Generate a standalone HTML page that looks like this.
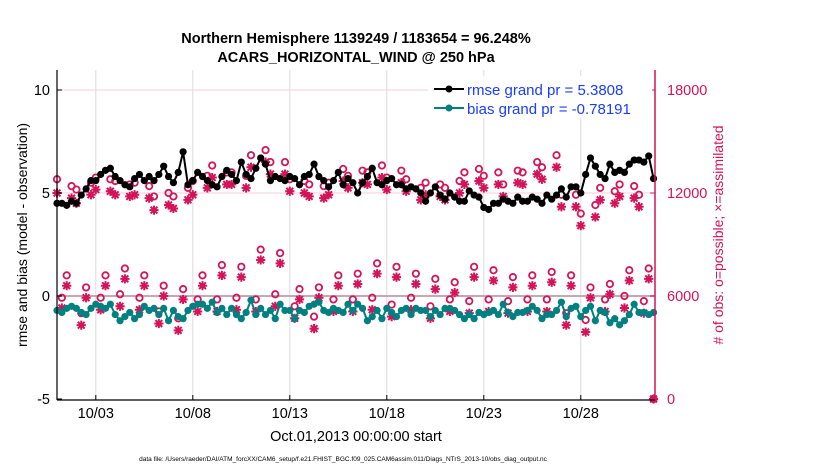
<!DOCTYPE html>
<html><head><meta charset="utf-8"><style>
body{margin:0;background:#fff;}
svg text{font-family:"Liberation Sans",sans-serif;}
</style></head><body>
<svg id="c" width="830" height="470" xmlns="http://www.w3.org/2000/svg">
<text x="356" y="43" font-size="14.5" font-weight="bold" text-anchor="middle">Northern Hemisphere 1139249 / 1183654 = 96.248%</text>
<text x="356" y="62" font-size="14.5" font-weight="bold" text-anchor="middle">ACARS_HORIZONTAL_WIND @ 250 hPa</text>
<g id="grid"></g><g id="marks"></g><g id="axes"></g>
<text transform="translate(27,235) rotate(-90)" font-size="14" text-anchor="middle">rmse and bias (model - observation)</text>
<text transform="translate(723,235) rotate(-90)" font-size="14" text-anchor="middle" fill="#d4145a"># of obs: o=possible; ×=assimilated</text>
<text x="356" y="441" font-size="14.5" text-anchor="middle">Oct.01,2013 00:00:00 start</text>
<text x="343" y="461" font-size="6.5" text-anchor="middle">data file: /Users/raeder/DAI/ATM_forcXX/CAM6_setup/f.e21.FHIST_BGC.f09_025.CAM6assim.011/Diags_NTrS_2013-10/obs_diag_output.nc</text>
<g>
<rect x="428" y="76" width="224" height="42" fill="#fff"/>
<g><line x1="434" y1="89" x2="464" y2="89" stroke="#000" stroke-width="2"/><circle cx="449" cy="89" r="3.5" fill="#000"/><text x="467" y="95" font-size="15" fill="#1a3cff">rmse grand pr = 5.3808</text></g>
<g><line x1="434" y1="108" x2="464" y2="108" stroke="#008080" stroke-width="2"/><circle cx="449" cy="108" r="3.5" fill="#008080"/><text x="467" y="114" font-size="15" fill="#1a3cff">bias grand pr = -0.78191</text></g>
</g>
</svg>
<script>
const rmse=[4.5,4.5,4.4,4.6, 4.5,4.9,5.2,5.6, 5.6,5.9,6.1,6.2, 5.8,5.6,5.4,5.3, 5.7,5.9,5.6,5.8, 5.6,5.9,6.3,5.8, 5.5,6.0,7.0,5.4, 5.6,6.0,5.8,5.6, 5.4,5.3,5.8,6.1, 5.9,5.6,6.5,5.9, 5.7,6.2,6.7,6.4, 5.6,5.8,5.7,5.6, 5.8,5.7,5.4,5.8, 5.9,6.4,5.8,5.6, 5.3,5.6,6.0,5.4, 5.7,5.5,5.0,5.5, 5.8,6.2,5.5,5.4, 5.6,5.7,5.4,5.4, 5.2,5.3,5.2,5.0, 4.6,5.0,5.3,4.9, 4.7,5.0,4.8,4.6, 4.6,5.1,4.9,4.8, 4.3,4.2,4.5,4.5, 4.7,4.6,4.5,4.8, 4.6,4.6,4.8,4.7, 4.5,4.9,4.7,4.9, 5.2,4.8,5.3,5.3, 5.0,5.9,6.7,6.3, 5.9,5.7,6.4,6.0, 6.1,6.0,6.4,6.6, 6.6,6.5,6.8,5.7];
const bias=[-0.7,-0.8,-0.6,-0.5, -0.6,-0.8,-0.9,-0.6, -0.4,-0.5,-0.6,-0.4, -0.9,-1.2,-1.0,-0.8, -1.1,-0.9,-0.5,-0.7, -0.6,-0.9,-0.6,-1.2, -0.7,-1.0,-1.1,-0.7, -0.5,-0.4,-0.4,-0.6, -0.3,-0.8,-0.6,-0.9, -0.6,-0.9,-1.1,-0.8, -0.2,-0.9,-0.6,-0.9, -0.7,-1.1,-0.4,-0.7, -0.7,-1.1,-0.7,-0.8, -0.5,-0.4,-0.3,-0.7, -0.8,-0.6,-0.7,-0.8, -0.4,-0.7,-0.4,-0.6, -1.2,-1.0,-0.7,-1.1, -0.6,-0.8,-1.0,-0.7, -0.6,-0.9,-0.6,-0.7, -0.7,-1.0,-0.7,-0.9, -0.6,-0.6,-0.7,-0.9, -1.1,-0.9,-1.1,-0.8, -0.9,-0.8,-0.7,-0.9, -0.4,-0.8,-1.0,-0.8, -0.8,-0.7,-0.5,-0.7, -1.1,-0.9,-0.9,-0.7, -0.3,-1.0,-0.6,-0.5, -1.0,-0.7,-0.5,-1.2, -0.7,-0.8,-1.3,-1.1, -1.4,-1.2,-0.9,-0.4, -0.8,-0.8,-0.9,-0.8];
const possible=[12800,5900,7200,12400, 12200,5000,6500,12600, 12900,5900,7200,12800, 12700,6100,7600,12500, 12600,5900,7200,12400, 11800,5100,6600,12000, 11800,4700,6400,12300, 12700,5800,7200,13000, 13600,5800,7800,13200, 13200,5900,7700,13000, 14200,5800,8700,14500, 13800,6100,8500,13800, 12800,5400,6400,12700, 12500,4800,6500,12400, 12600,5800,7200,13400, 13000,5800,7300,13300, 13200,5900,7900,13600, 12900,5500,7700,13300, 12800,5900,7300,12300, 12600,5400,7000,12500, 12300,5800,6800,12700, 13200,5700,7700,13400, 13000,5800,7500,13200, 12500,5700,7100,13300, 13200,5800,7200,13800, 13500,5800,7400,14200, 11900,5000,7200,11900, 10800,4600,6500,11300, 12300,5800,6700,12100, 12500,6000,7500,12400, 11900,5700,7600,0];
const assimilated=[12000,5300,6600,11700, 11400,4300,5900,11900, 12200,5200,6600,12100, 11900,5400,7000,11800, 11900,5200,6600,11700, 11000,4400,6000,11300, 11100,4000,5800,11600, 11900,5100,6600,12300, 12900,5100,7200,12500, 12500,5200,7100,12300, 13500,5100,8100,13800, 13100,5400,7900,13100, 12100,4700,5800,12000, 11800,4100,5900,11700, 11900,5100,6600,12700, 12300,5100,6700,12600, 12500,5200,7300,12900, 12200,4800,7100,12600, 12100,5200,6700,11600, 11900,4700,6400,11800, 11600,5100,6200,12000, 12500,5000,7100,12700, 12300,5100,6900,12500, 11800,5000,6500,12600, 12500,5100,6600,13100, 12800,5100,6800,13500, 11200,4300,6600,11200, 10100,3900,5900,10600, 11600,5100,6100,11400, 11800,5300,6900,11700, 11200,5000,7000,0];
const xTicks=[2,7,12,17,22,27];
const xTickLabels=["10/03","10/08","10/13","10/18","10/23","10/28"];
const yTicks=[-5,0,5,10];
const y2Ticks=[0,6000,12000,18000];

const X0=57,X1=655,Y0=400,YT=70;
const xs=t=>X0+t*19.4;
const ys=v=>296-v*20.6;
const y2s=v=>399-v*103/6000;
const tOf=i=>i*0.25;
const NS="http://www.w3.org/2000/svg";
function mk(tag,attrs,parent){const e=document.createElementNS(NS,tag);for(const k in attrs)e.setAttribute(k,attrs[k]);parent.appendChild(e);return e;}
const grid=document.getElementById('grid'),marks=document.getElementById('marks'),axes=document.getElementById('axes');

xTicks.forEach((d,i)=>{
 const l=mk('line',{x1:xs(d),x2:xs(d),y1:YT,y2:Y0,stroke:'#dcdcdc','stroke-width':1},grid);
 
 
 const tk=mk('line',{x1:xs(d),x2:xs(d),y1:Y0,y2:Y0-5,stroke:'#000'},axes);
 
 
 const t=mk('text',{x:xs(d),y:418,'font-size':14.5,'text-anchor':'middle'},axes);t.textContent=xTickLabels[i];
 
 
});
y2Ticks.forEach(v=>{
 if(v>0){const l=mk('line',{x1:X0,x2:X1,y1:y2s(v),y2:y2s(v),stroke:'#f6cfdc','stroke-width':1},grid);
 
 }
 const tk=mk('line',{x1:X1,x2:X1-5,y1:y2s(v),y2:y2s(v),stroke:'#d4145a'},axes);
 
 
 const t=mk('text',{x:667,y:y2s(v)+5,'font-size':14.5,fill:'#d4145a'},axes);t.textContent=v;
 
 
});
const z=mk('line',{x1:X0,x2:X1,y1:ys(0),y2:ys(0),stroke:'#c8a8b0','stroke-width':2},grid);


yTicks.forEach(v=>{
 const tk=mk('line',{x1:X0,x2:X0+5,y1:ys(v),y2:ys(v),stroke:'#000'},axes);
 
 
 const t=mk('text',{x:50,y:ys(v)+5,'font-size':14.5,'text-anchor':'end'},axes);t.textContent=v;
 
 
});
const la=mk('line',{x1:X0,x2:X0,y1:YT,y2:Y0,stroke:'#000','stroke-width':1.2},axes);


const ra=mk('line',{x1:X1,x2:X1,y1:YT,y2:Y0,stroke:'#d4145a','stroke-width':1.5},axes);


const ba=mk('line',{x1:X0,x2:X1,y1:Y0,y2:Y0,stroke:'#000','stroke-width':1.2},axes);



possible.forEach((v,i)=>{
 const a=assimilated[i];
 const x=xs(tOf(i));
 const g=mk('g',{stroke:'#d4145a',fill:'none'},marks);
 
 
 const c=mk('circle',{cx:x,cy:y2s(v),r:3.2,'stroke-width':1.8},g);
 
 
 const y=y2s(a),r=4.6,d=3.4;
 const p=mk('path',{d:`M${x-r},${y}H${x+r}M${x},${y-r}V${y+r}M${x-d},${y-d}L${x+d},${y+d}M${x-d},${y+d}L${x+d},${y-d}`,'stroke-width':2},g);
 
 
});
function series(arr,col,name){
 const pts=arr.map((v,i)=>xs(tOf(i))+','+ys(v)).join(' ');
 const pl=mk('polyline',{points:pts,fill:'none',stroke:col,'stroke-width':2},marks);
 
 
 arr.forEach((v,i)=>{
  const c=mk('circle',{cx:xs(tOf(i)),cy:ys(v),r:3.6,fill:col},marks);
  
  
 });
}
series(bias,'#008080','bias');
series(rmse,'#000','rmse');
</script>
</body></html>
